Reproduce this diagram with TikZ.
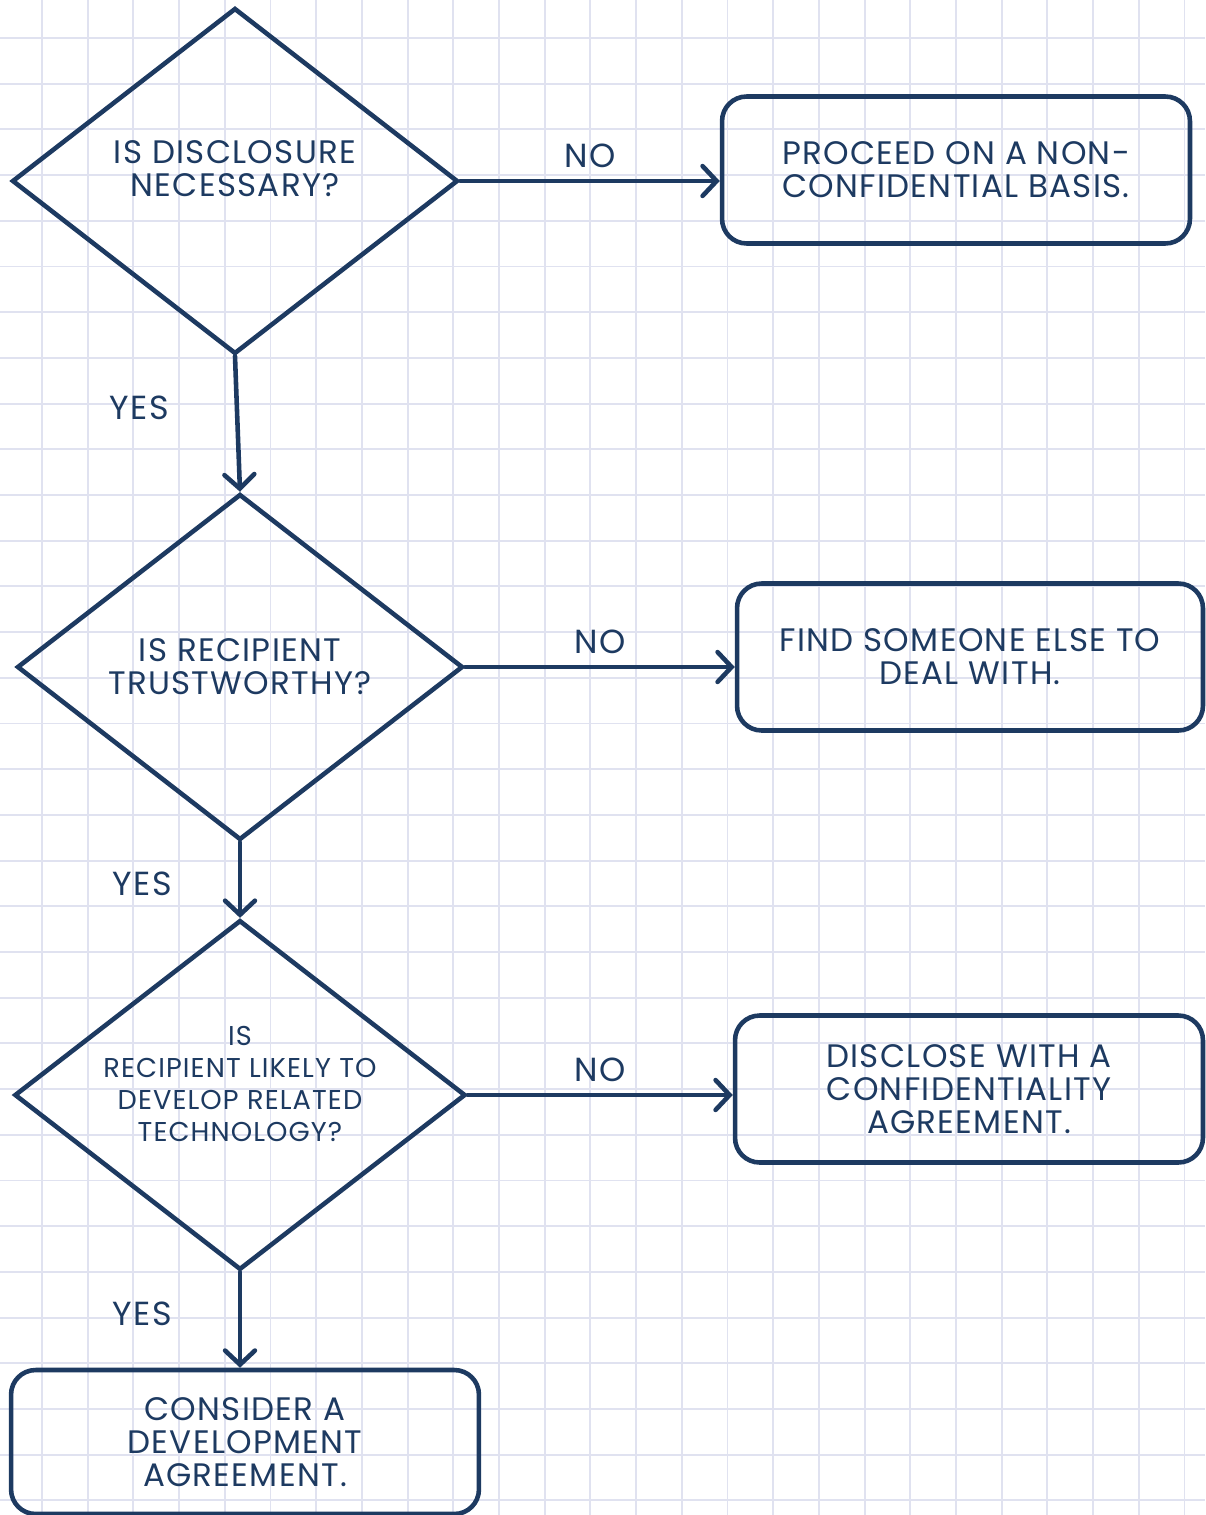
\documentclass[tikz,border=0pt]{standalone}
\usepackage{fontspec}
\setmainfont{Poppins}[LetterSpace=4]
\usetikzlibrary{positioning, shapes.geometric, arrows.meta}
\definecolor{inkblue}{RGB}{29,58,97}
\definecolor{gridblue}{RGB}{224,226,240}

\begin{document}
\begin{tikzpicture}[x=0.02cm,y=-0.02cm,
  gridline/.style={gridblue, line width=1.1pt},
  question/.style={diamond, draw=inkblue, line width=2.6pt, aspect=1.29,
    inner sep=0pt, minimum width=8.92cm, minimum height=6.92cm,
    align=center, text=inkblue, font=\fontsize{18.5}{18.7}\selectfont},
  outcome/.style={rectangle, rounded corners=14pt, draw=inkblue, line width=2.6pt,
    minimum width=9.36cm, minimum height=2.94cm,
    align=center, text=inkblue, font=\fontsize{18.5}{18.7}\selectfont},
  flow/.style={draw=inkblue, line width=2.6pt, line cap=round,
    -{Straight Barb[length=8pt,width=17pt,line cap=round]}},
  answer/.style={text=inkblue, font=\fontsize{19}{20}\selectfont}]

% Paper and grid
\useasboundingbox (0,0) rectangle (1205,1515);
\fill[white] (0,0) rectangle (1205,1515);
\foreach \k in {0,...,27}
  \draw[gridline] ({-3.7+45.7*\k},0) -- ({-3.7+45.7*\k},1515);
\foreach \k in {0,...,33}
  \draw[gridline] (0,{-7.7+45.7*\k}) -- (1205,{-7.7+45.7*\k});

% Decisions
\node[question, text depth=14pt] (disclose) at (235,181) {IS DISCLOSURE\\NECESSARY?};
\node[question] (trusted) at (240,667) {IS RECIPIENT\\TRUSTWORTHY?};
\node[question, text depth=13pt, font=\fontsize{15.5}{18.2}\selectfont] (likely) at (240,1095)
  {IS\\RECIPIENT LIKELY TO\\DEVELOP RELATED\\TECHNOLOGY?};

% Outcomes
\node[outcome] (nonconf) at (956,170) {PROCEED ON A NON-\\CONFIDENTIAL BASIS.};
\node[outcome, minimum width=9.32cm] (elsewhere) at (970,657) {FIND SOMEONE ELSE TO\\DEAL WITH.};
\node[outcome] (ndaagree) at (969,1089) {DISCLOSE WITH A\\CONFIDENTIALITY\\AGREEMENT.};
\node[outcome, minimum height=2.88cm] (devagree) at (245,1442) {CONSIDER A\\DEVELOPMENT\\AGREEMENT.};

% Connectors
\draw[flow] (disclose.east) -- (disclose.east -| nonconf.west)
  node[midway, above=3pt, answer] {NO};
\draw[flow] (disclose.south) -- (trusted.north)
  node[pos=0.38, left=1.2cm, answer] {YES};
\draw[flow] (trusted.east) -- (trusted.east -| elsewhere.west)
  node[midway, above=3pt, answer] {NO};
\draw[flow] (trusted.south) -- (likely.north)
  node[pos=0.55, left=1.2cm, answer] {YES};
\draw[flow] (likely.east) -- (likely.east -| ndaagree.west)
  node[midway, above=3pt, answer] {NO};
\draw[flow] (likely.south) -- (likely.south |- devagree.north)
  node[pos=0.44, left=1.2cm, answer] {YES};
\end{tikzpicture}
\end{document}
